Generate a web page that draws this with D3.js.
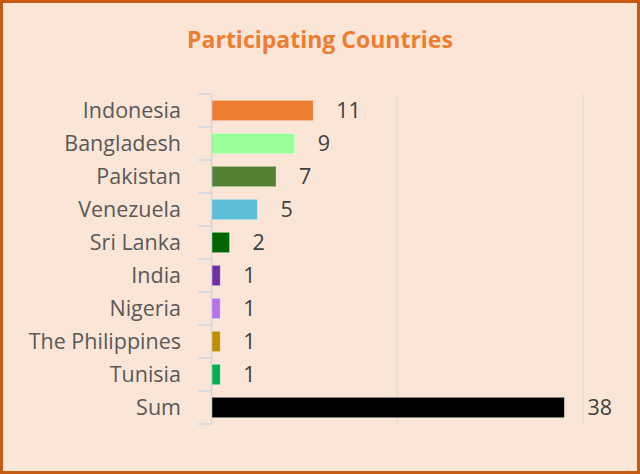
<!DOCTYPE html>
<html><head><meta charset="utf-8">
<script src="https://cdn.jsdelivr.net/npm/d3@7"></script>
<style>html,body{margin:0;padding:0;background:#fff;}svg{display:block;}</style>
</head><body>
<svg id="c" width="640" height="474"></svg>
<script>
const categories = ["Indonesia","Bangladesh","Pakistan","Venezuela","Sri Lanka","India","Nigeria","The Philippines","Tunisia","Sum"];
const values = [11,9,7,5,2,1,1,1,1,38];
const colors = ["#ED7D31","#99FF99","#548235","#5BBDD6","#006600","#7030A0","#B774E8","#BF8F00","#00B050","#000000"];
const gridTicks = [0,20,40];
const title = "Participating Countries";

const FONT = "'Open Sans', 'Noto Sans', sans-serif";
const svg = d3.select("#c");
const W = 640, H = 474;
svg.append("rect").attr("x",1.5).attr("y",1.5).attr("width",W-3).attr("height",H-3)
  .attr("fill","#FBE5D6").attr("stroke","#C55A11").attr("stroke-width",3);

svg.append("text").attr("x",320).attr("y",48).attr("text-anchor","middle")
  .attr("font-family",FONT).attr("font-weight","bold")
  .attr("font-size",23).attr("fill","#ED7D31").text(title);

const x = d3.scaleLinear().domain([0,40]).range([211,583]);
const y = d3.scaleBand().domain(categories).range([94,424]).paddingInner(0.38).paddingOuter(0.19);

svg.append("g").selectAll("line").data(gridTicks.slice(1)).join("line")
  .attr("x1",d=>x(d)).attr("x2",d=>x(d)).attr("y1",94).attr("y2",424)
  .attr("stroke","#D9D9D9").attr("stroke-width",1);

svg.append("g").selectAll("rect").data(values).join("rect")
  .attr("x",x(0)).attr("y",(d,i)=>y(categories[i]))
  .attr("width",d=>x(d)-x(0)).attr("height",y.bandwidth())
  .attr("fill",(d,i)=>colors[i]).attr("stroke","#FFFFFF").attr("stroke-opacity",0.5).attr("stroke-width",0.8);

const yAxis = d3.axisLeft(y).tickSize(0).tickPadding(30);
const gy = svg.append("g").attr("transform",`translate(${x(0)},0)`).call(yAxis);
gy.select(".domain").attr("stroke","#D0D7E0").attr("stroke-width",1.5);
gy.selectAll("text").attr("font-family",FONT)
  .attr("font-size",21.5).attr("fill","#595959").attr("dy","0.33em");
const bounds = d3.range(categories.length+1).map(i=>94 + i*y.step());
svg.append("g").selectAll("line").data(bounds).join("line")
  .attr("x1",198).attr("x2",x(0)).attr("y1",d=>d).attr("y2",d=>d)
  .attr("stroke","#D0D7E0").attr("stroke-width",1.5);

svg.append("g").selectAll("text").data(values).join("text")
  .attr("x",d=>x(d)+23).attr("y",(d,i)=>y(categories[i])+y.bandwidth()/2)
  .attr("dy","0.35em")
  .attr("font-family",FONT).attr("font-size",21.5)
  .attr("fill","#404040").text(d=>d);
</script>
</body></html>
